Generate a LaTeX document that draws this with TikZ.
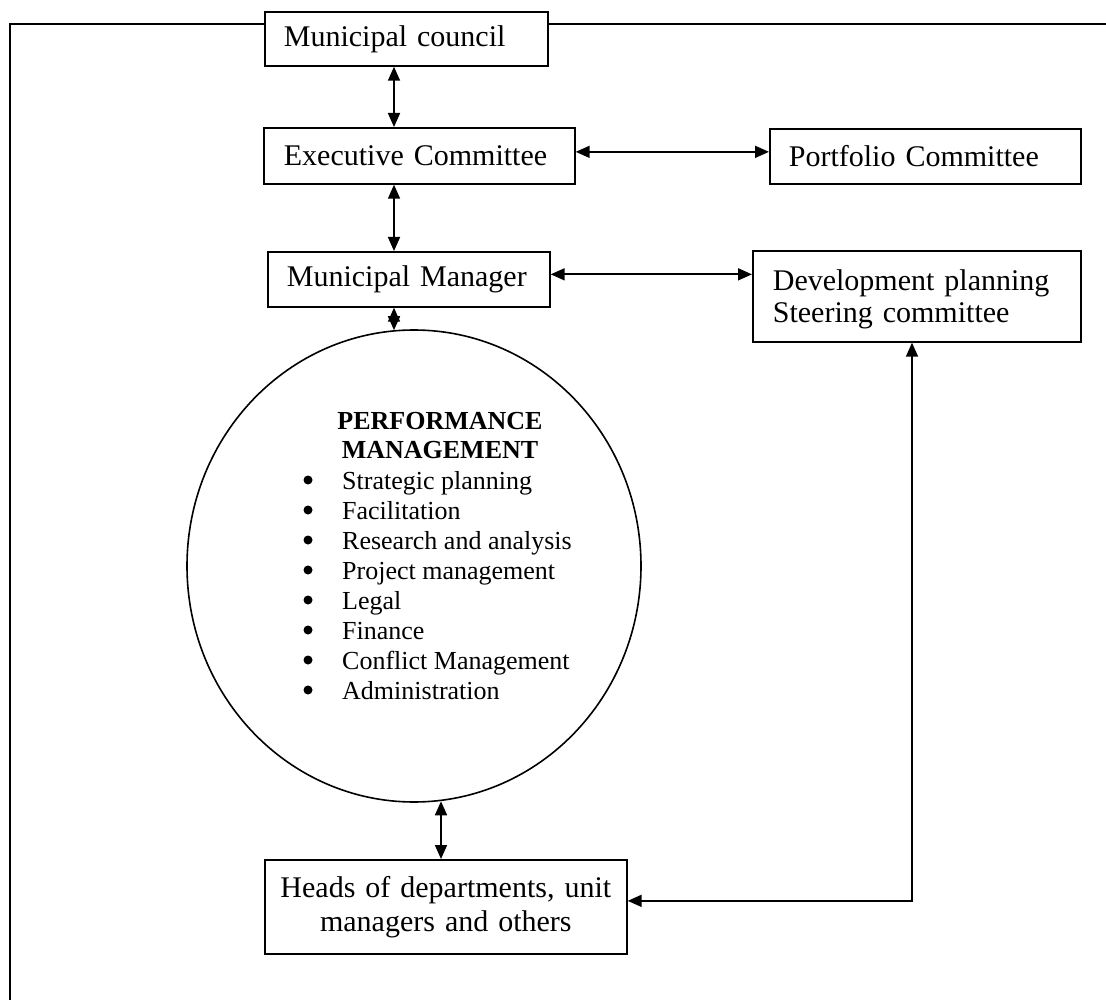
\documentclass[tikz,border=0pt]{standalone}
\usepackage{fontspec}
\setmainfont{Liberation Serif}
\usetikzlibrary{arrows.meta,shapes.geometric}
\begin{document}
\begin{tikzpicture}[x=1pt,y=-1pt,
  box/.style={draw, line width=1.7pt, fill=white, inner sep=0pt, anchor=north west,
    align=left, font=\fontsize{30}{34}\selectfont},
  link/.style={line width=1.7pt, {Triangle[length=14pt,width=12pt]}-{Triangle[length=14pt,width=12pt]}},
  pmfont/.style={font=\fontsize{26}{30}\selectfont},
  bul/.style={circle, fill, inner sep=0pt, minimum size=9pt},
  item/.style={inner sep=0pt, pmfont, anchor=base west},
  ]
\useasboundingbox (0,0) rectangle (1106,1000);
% outer frame
\draw[line width=1.9pt] (9.6,1010) -- (9.6,24) -- (1115,24);
% boxes
\node[box, minimum width=283pt, minimum height=54pt, text width=245pt, inner xsep=19pt] (council) at (264,11) {Municipal council};
\node[box, minimum width=311pt, minimum height=56pt, text width=271pt, inner xsep=20pt] (exec) at (263,127) {Executive Committee};
\node[box, minimum width=311pt, minimum height=55pt, text width=273pt, inner xsep=19pt] (portfolio) at (769,128) {Portfolio Committee};
\node[box, minimum width=282pt, minimum height=55pt, text width=244pt, inner xsep=19pt] (manager) at (267,251) {Municipal Manager};
\node[box, font=\fontsize{30}{32}\selectfont, minimum width=328pt, minimum height=91pt, text width=288pt, inner xsep=20pt] (devplan) at (752,250) {\rule{0pt}{27pt}Development planning\\Steering committee};
\node[box, align=center, minimum width=362pt, minimum height=94pt, text width=342pt, inner xsep=10pt] (heads) at (264,859) {Heads of departments, unit\\managers and others};
% performance management circle
\node[draw, line width=1.6pt, ellipse, inner sep=0pt, minimum width=454pt, minimum height=472pt] (pm) at (414,566) {};
\node[inner sep=0pt, anchor=base, font=\fontsize{26}{30}\selectfont\bfseries] (pmh1) at (440,429) {PERFORMANCE};
\node[inner sep=0pt, anchor=base, font=\fontsize{26}{30}\selectfont\bfseries] (pmh2) at (440,458) {MANAGEMENT};
\foreach \t [count=\i from 0] in {Strategic planning, Facilitation, Research and analysis, Project management, Legal, Finance, Conflict Management, Administration}{
  \node[bul] (b\i) at (308,{480+30*\i}) {};
  \node[item] (t\i) at (342,{489+30*\i}) {\t};
}
% connectors
\coordinate (ax) at (394,0);
\coordinate (bx) at (441,0);
\coordinate (dx) at (912,0);
\draw[link] (council.south -| ax) -- (exec.north -| ax);
\draw[link] (exec.south -| ax) -- (manager.north -| ax);
\draw[link] ([yshift=4pt]exec.east) -- ([yshift=4pt]exec.east -| portfolio.west);
\draw[link] ([yshift=5pt]manager.east) -- ([yshift=5pt]manager.east -| devplan.west);
\draw[link] (manager.south -| ax) -- ([yshift=-1pt]pm.north -| ax);
\draw[link] ([yshift=1.5pt]pm.south -| bx) -- (heads.north -| bx);
\draw[link] ([yshift=6pt]heads.east) -- ([yshift=6pt]heads.east -| dx) -- (devplan.south -| dx);
\end{tikzpicture}
\end{document}
